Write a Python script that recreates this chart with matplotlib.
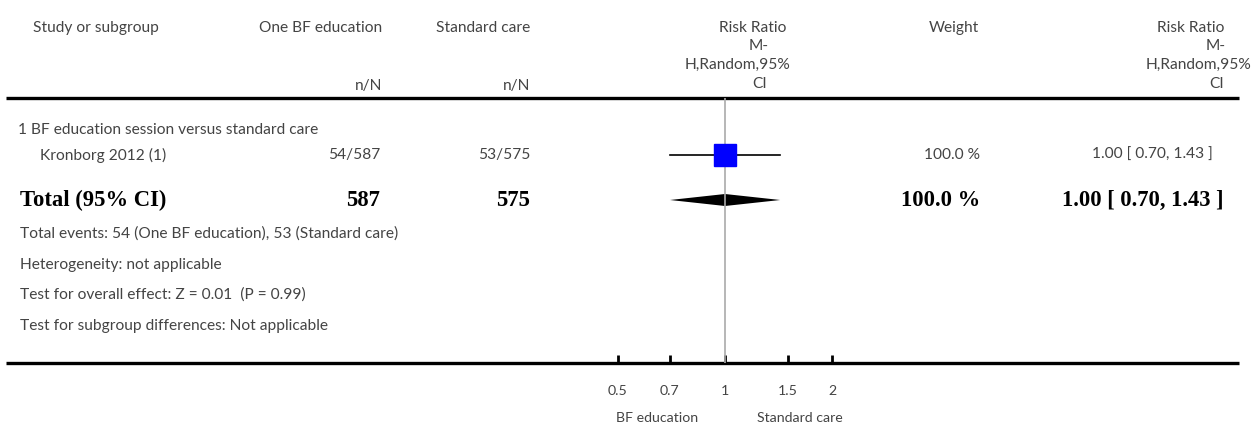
import numpy as np
import matplotlib
matplotlib.use("Agg")
import matplotlib.pyplot as plt

# Study level data
studies = ["Kronborg 2012 (1)"]
events_edu = [54]
total_edu = [587]
events_std = [53]
total_std = [575]
rr = [1.00]
ci_low = [0.70]
ci_high = [1.43]
weights = [100.0]

# Pooled estimate
pooled_rr = 1.00
pooled_low = 0.70
pooled_high = 1.43

tick_values = [0.5, 0.7, 1, 1.5, 2]
tick_labels = ["0.5", "0.7", "1", "1.5", "2"]

W, H = 1253, 429
fig = plt.figure(figsize=(W / 100, H / 100), dpi=100)

# overlay axes in pixel coordinates for the table part
tab = fig.add_axes([0, 0, 1, 1])
tab.set_xlim(0, W)
tab.set_ylim(H, 0)
tab.axis("off")

sans = dict(family="Lato", fontsize=11.2, color="#444444")
bold = dict(family="Liberation Serif", fontsize=16.3, fontweight="bold", color="black")

# header
tab.text(33, 28, "Study or subgroup", ha="left", va="center", **sans)
tab.text(382, 28, "One BF education", ha="right", va="center", **sans)
tab.text(530, 28, "Standard care", ha="right", va="center", **sans)
tab.text(382, 86, "n/N", ha="right", va="center", **sans)
tab.text(530, 86, "n/N", ha="right", va="center", **sans)
tab.text(753, 28, "Risk Ratio", ha="center", va="center", **sans)
tab.text(759, 46, "M-", ha="center", va="center", **sans)
tab.text(738, 65, "H,Random,95%", ha="center", va="center", **sans)
tab.text(760, 84, "CI", ha="center", va="center", **sans)
tab.text(954, 28, "Weight", ha="center", va="center", **sans)
tab.text(1224, 28, "Risk Ratio", ha="right", va="center", **sans)
tab.text(1226, 46, "M-", ha="right", va="center", **sans)
tab.text(1251, 65, "H,Random,95%", ha="right", va="center", **sans)
tab.text(1224, 84, "CI", ha="right", va="center", **sans)

# horizontal rules
tab.plot([6, 1239], [98, 98], color="black", lw=2.4, solid_capstyle="butt")
tab.plot([6, 1239], [363, 363], color="black", lw=2.4, solid_capstyle="butt")

# subgroup and study rows
tab.text(18, 130, "1 BF education session versus standard care", ha="left", va="center", **sans)
row_y = [155]
for i, name in enumerate(studies):
    y = row_y[i]
    tab.text(40, y, name, ha="left", va="center", **sans)
    tab.text(380, y, f"{events_edu[i]}/{total_edu[i]}", ha="right", va="center", **sans)
    tab.text(530, y, f"{events_std[i]}/{total_std[i]}", ha="right", va="center", **sans)
    tab.text(980, y, f"{weights[i]:.1f} %", ha="right", va="center", **sans)
    tab.text(1213, y, f"{rr[i]:.2f} [ {ci_low[i]:.2f}, {ci_high[i]:.2f} ]",
             ha="right", va="center", **sans)

# total row
total_y = 200
tab.text(20, total_y, "Total (95% CI)", ha="left", va="center", **bold)
tab.text(380, total_y, f"{sum(total_edu)}", ha="right", va="center", **bold)
tab.text(530, total_y, f"{sum(total_std)}", ha="right", va="center", **bold)
tab.text(980, total_y, f"{sum(weights):.1f} %", ha="right", va="center", **bold)
tab.text(1223, total_y, f"{pooled_rr:.2f} [ {pooled_low:.2f}, {pooled_high:.2f} ]",
         ha="right", va="center", **bold)

# footnotes
tab.text(20, 234, f"Total events: {sum(events_edu)} (One BF education), {sum(events_std)} (Standard care)",
         ha="left", va="center", **sans)
tab.text(20, 265, "Heterogeneity: not applicable", ha="left", va="center", **sans)
tab.text(20, 295, "Test for overall effect: Z = 0.01  (P = 0.99)", ha="left", va="center", **sans)
tab.text(20, 326, "Test for subgroup differences: Not applicable", ha="left", va="center", **sans)

# forest panel, log scale: pixel = 725 + 154.4 * ln(rr)
px0, px1 = 600, 850
scale = 154.4
ax = fig.add_axes([px0 / W, (H - 363) / H, (px1 - px0) / W, (363 - 98) / H])
ax.patch.set_alpha(0)
ax.set_xscale("log")
ax.set_xlim(np.exp((px0 - 725) / scale), np.exp((px1 - 725) / scale))
ax.set_ylim(363, 98)
for s in ax.spines.values():
    s.set_visible(False)
ax.set_yticks([])
ax.set_xticks(tick_values)
ax.set_xticklabels(tick_labels)
ax.minorticks_off()
ax.tick_params(axis="x", direction="in", length=6, width=2, color="black",
               pad=16, labelsize=10.2, labelcolor="#444444")
for lab in ax.get_xticklabels():
    lab.set_family("Lato")

ax.axvline(1, color="#aaaaaa", lw=1.2)

for i in range(len(studies)):
    y = row_y[i]
    ax.plot([ci_low[i], ci_high[i]], [y, y], color="black", lw=1.2)
    ax.plot([rr[i]], [y], marker="s", markersize=16, color="blue", mec="blue")

ax.fill([pooled_low, pooled_rr, pooled_high, pooled_rr],
        [total_y, total_y - 6, total_y, total_y + 6], color="black", lw=0)

tab.text(657, 418, "BF education", ha="center", va="center", **dict(sans, fontsize=10.2))
tab.text(800, 418, "Standard care", ha="center", va="center", **dict(sans, fontsize=10.2))

fig.savefig("out.png", dpi=100)
